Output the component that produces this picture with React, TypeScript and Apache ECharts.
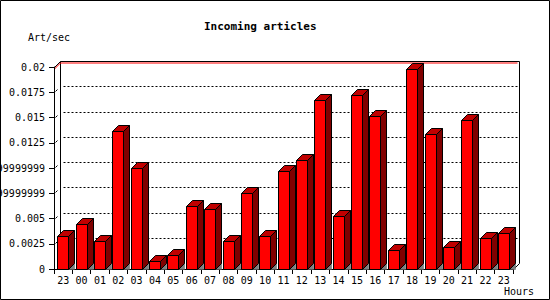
import React, { useEffect, useRef } from "react";
import * as echarts from "echarts";

const hours = ["23", "00", "01", "02", "03", "04", "05", "06", "07", "08", "09", "10", "11", "12", "13", "14", "15", "16", "17", "18", "19", "20", "21", "22", "23"];
const articlesPerSec = [0.0033, 0.0045, 0.0028, 0.0137, 0.01, 0.0008, 0.0014, 0.0062, 0.0059, 0.0028, 0.0075, 0.0033, 0.0097, 0.0108, 0.0167, 0.0052, 0.0172, 0.0151, 0.0019, 0.0198, 0.0134, 0.0022, 0.0148, 0.0031, 0.0036];
const yTickValues = [0, 0.0025, 0.005, 0.0075, 0.01, 0.0125, 0.015, 0.0175, 0.02];
const yTickLabels = ["0", "0.0025", "0.005", "0.0074999999999999", "0.0099999999999999", "0.0125", "0.015", "0.0175", "0.02"];

const L = 54;
const T = 67;
const R = 513;
const B = 269;
const D = 6;
const FONT = "'DejaVu Sans Mono', 'Liberation Mono', monospace";

export default function App() {
  const ref = useRef<HTMLDivElement>(null);
  useEffect(() => {
    if (!ref.current) return;
    const chart = echarts.init(ref.current, null, { renderer: "svg" });
    const gridData = yTickValues.slice(1, -1).map((v) => [0, v]);
    const barData = articlesPerSec.map((v, i) => [i, v]);
    chart.setOption({
      animation: false,
      grid: { left: L, top: T, right: 550 - R, bottom: 300 - B, containLabel: false, outerBoundsMode: "none" },
      xAxis: {
        type: "category",
        data: hours,
        boundaryGap: true,
        axisLine: { lineStyle: { color: "#000", width: 1 } },
        axisTick: { show: true, length: 5, alignWithLabel: false, interval: 0, lineStyle: { color: "#000" } },
        axisLabel: { interval: 0, margin: 6, color: "#000", fontFamily: FONT, fontSize: 10 },
        splitLine: { show: false },
      },
      yAxis: {
        type: "value",
        min: 0,
        max: 0.02,
        interval: 0.0025,
        axisLine: { show: true, lineStyle: { color: "#000", width: 1 } },
        axisTick: { show: true, length: 5, lineStyle: { color: "#000" } },
        axisLabel: {
          margin: 9,
          color: "#000",
          fontFamily: FONT,
          fontSize: 10,
          formatter: (val: number) => {
            const idx = Math.round(val / 0.0025);
            return yTickLabels[idx] ?? String(val);
          },
        },
        splitLine: { show: false },
      },
      graphic: [
        { type: "rect", shape: { x: 0.5, y: 0.5, width: 549, height: 299 }, style: { fill: "none", stroke: "#000", lineWidth: 1 }, z: 0 },
        {
          type: "polyline",
          shape: { points: [[L + D + 0.5, T - D + 0.5], [L + D + 0.5, B - D + 0.5]] },
          style: { stroke: "#000", lineWidth: 1, fill: null },
          z: 0,
        },
        {
          type: "polyline",
          shape: { points: [[L + 0.5, T + 0.5], [L + D + 0.5, T - D + 0.5], [R + D + 0.5, T - D + 0.5], [R + D + 0.5, B - D + 0.5], [R + 0.5, B + 0.5]] },
          style: { stroke: "#000", lineWidth: 1, fill: null },
          z: 0,
        },
        {
          type: "polyline",
          shape: { points: [[L + 0.5, T + 2], [L + D + 0.5, T - D + 2], [R + D - 1.5, T - D + 2]] },
          style: { stroke: "#ff0000", lineWidth: 1, fill: null },
          z: 0,
        },
        { type: "text", left: 204, top: 21, style: { text: "Incoming articles", font: `bold 11px ${FONT}`, fill: "#000" } },
        { type: "text", left: 28, top: 32, style: { text: "Art/sec", font: `10px ${FONT}`, fill: "#000" } },
        { type: "text", left: 504, top: 286, style: { text: "Hours", font: `10px ${FONT}`, fill: "#000" } },
      ],
      series: [
        {
          type: "custom",
          z: 1,
          silent: true,
          data: gridData,
          encode: { x: 0, y: 1 },
          renderItem: (params: any, api: any) => {
            const v = api.value(1);
            const y = Math.round(api.coord([0, v])[1]) + 0.5;
            const cs = params.coordSys;
            const x0 = Math.round(cs.x) + 0.5;
            const x1 = Math.round(cs.x + cs.width) + 0.5;
            return {
              type: "group",
              children: [
                {
                  type: "line",
                  shape: { x1: x0 + 1, y1: y - 1, x2: x0 + 3, y2: y - 3 },
                  style: { stroke: "#000", lineWidth: 1 },
                },
                {
                  type: "line",
                  shape: { x1: x0 + D + 3, y1: y - D, x2: x1 + D, y2: y - D },
                  style: { stroke: "#000", lineWidth: 1, lineDash: [2, 2] },
                },
              ],
            };
          },
        },
        {
          type: "custom",
          z: 3,
          data: barData,
          encode: { x: 0, y: 1 },
          renderItem: (params: any, api: any) => {
            const i = api.value(0);
            const v = api.value(1);
            const p = api.coord([i, v]);
            const y0 = Math.round(api.coord([i, 0])[1]) + 0.5;
            const bw = api.size([1, 0])[0];
            const left = Math.round(p[0] - bw / 2 + 3.3) + 0.5;
            const w = 11;
            const right = left + w;
            const yTop = Math.round(p[1]) + 0.5;
            const stroke = { stroke: "#000", lineWidth: 1 };
            return {
              type: "group",
              children: [
                {
                  type: "polygon",
                  shape: { points: [[right, y0], [right + D, y0 - D], [right + D, y0]] },
                  style: { fill: "#808080", stroke: "#606060", lineWidth: 0.5 },
                },
                {
                  type: "polygon",
                  shape: { points: [[right, yTop], [right + D, yTop - D], [right + D, y0 - D], [right, y0]] },
                  style: { fill: "#800000", ...stroke },
                },
                {
                  type: "polygon",
                  shape: { points: [[left, yTop], [left + D, yTop - D], [right + D, yTop - D], [right, yTop]] },
                  style: { fill: "#c00000", ...stroke },
                },
                {
                  type: "rect",
                  shape: { x: left, y: yTop, width: w, height: y0 - yTop },
                  style: { fill: "#ff0000", ...stroke },
                },
              ],
            };
          },
        },
      ],
    });
    return () => chart.dispose();
  }, []);
  return (
    <div
      ref={ref}
      style={{ position: "fixed", left: 0, top: 0, width: 550, height: 300, background: "#fff" }}
    />
  );
}
